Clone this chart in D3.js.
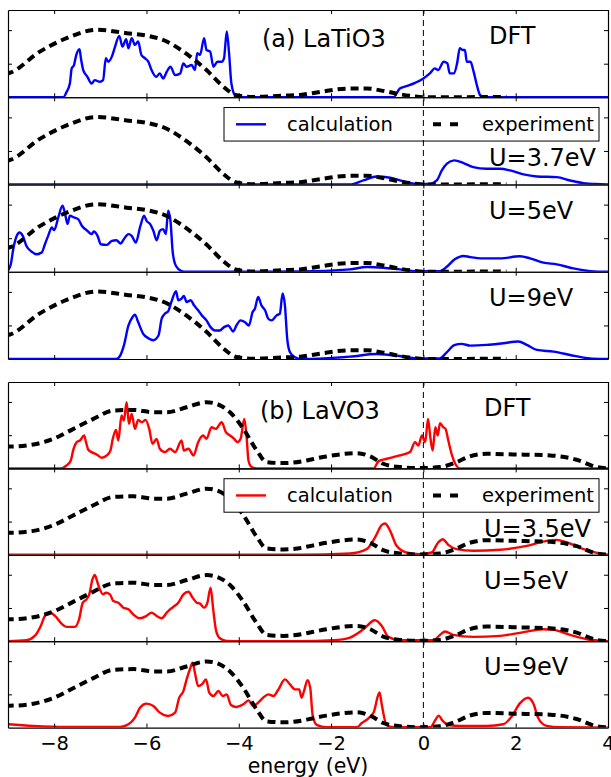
<!DOCTYPE html>
<html>
<head>
<meta charset="utf-8">
<script src="https://cdn.jsdelivr.net/npm/d3@7"></script>
<style>
  html, body { margin: 0; padding: 0; background: #fff; }
  svg { display: block; font-family: "DejaVu Sans", sans-serif; }
</style>
</head>
<body>
<svg id="chart" width="611" height="777"></svg>
<script>
// Energy axis
const energyTicks = [-8, -6, -4, -2, 0, 2, 4];
const energyTickLabels = ["\u22128", "\u22126", "\u22124", "\u22122", "0", "2", "4"];
const dosTicks = [1, 2];

// Photoemission / inverse photoemission spectra (experiment)
const expLaTiO3 = [[-9.05,0.70],[-8.96,0.73],[-8.31,1.36],[-7.73,1.76],[-7.08,2.01],[-6.43,1.91],[-6.0,1.84],[-5.56,1.66],[-5.13,1.29],[-4.70,0.81],[-4.33,0.31],[-4.05,0.06],[-3.68,0.01],[-3.03,0.05],[-2.67,0.07],[-2.24,0.16],[-1.59,0.26],[-1.23,0.26],[-0.87,0.19],[-0.51,0.09],[-0.22,0.03],[0.01,0.0],[1.80,0.01]];
const expLaVO3 = [[-9.05,0.66],[-8.96,0.66],[-8.45,0.72],[-8.02,0.89],[-7.58,1.19],[-7.15,1.49],[-6.72,1.74],[-6.28,1.76],[-5.84,1.69],[-5.56,1.69],[-5.13,1.84],[-4.70,1.99],[-4.48,1.94],[-4.19,1.69],[-3.90,1.19],[-3.61,0.54],[-3.40,0.19],[-3.04,0.16],[-2.60,0.22],[-2.53,0.24],[-2.10,0.36],[-1.44,0.46],[-1.15,0.36],[-0.87,0.14],[-0.51,0.04],[-0.08,0.01],[0.36,0.04],[0.72,0.19],[1.0,0.36],[1.37,0.44],[1.95,0.42],[2.75,0.39],[3.32,0.26],[3.75,0.04],[4.05,0.0]];

// Calculated spectral functions, LaTiO3
const calcLaTiO3DFT = [[-9,0],[-7.80,0],[-7.73,0.16],[-7.66,0.41],[-7.62,0.86],[-7.57,0.96],[-7.53,1.21],[-7.45,1.43],[-7.42,1.16],[-7.37,0.81],[-7.28,0.61],[-7.19,0.41],[-7.12,0.51],[-7.01,0.46],[-6.94,0.51],[-6.88,1.16],[-6.83,1.06],[-6.75,1.21],[-6.68,1.51],[-6.59,1.83],[-6.52,1.51],[-6.44,1.73],[-6.39,1.46],[-6.32,1.76],[-6.25,1.56],[-6.18,1.66],[-6.11,1.26],[-6.03,1.16],[-5.96,1.06],[-5.89,0.81],[-5.79,0.61],[-5.71,0.71],[-5.64,0.56],[-5.56,0.76],[-5.48,0.91],[-5.38,0.66],[-5.27,0.71],[-5.20,1.01],[-5.13,0.91],[-5.02,0.96],[-4.95,0.81],[-4.90,1.31],[-4.84,1.26],[-4.75,1.76],[-4.70,1.41],[-4.62,1.36],[-4.55,0.91],[-4.46,1.06],[-4.37,1.06],[-4.32,1.16],[-4.26,1.96],[-4.21,1.31],[-4.16,0.41],[-4.08,0.06],[-3.97,0],[-0.65,0],[-0.51,0.26],[-0.37,0.33],[-0.18,0.43],[0.0,0.56],[0.14,0.71],[0.25,0.86],[0.32,0.81],[0.44,1.06],[0.52,1.01],[0.57,0.71],[0.66,0.71],[0.73,1.01],[0.79,1.46],[0.85,1.41],[0.90,1.41],[0.94,1.06],[1.02,1.06],[1.08,0.81],[1.15,0.41],[1.23,0.06],[1.33,0],[4,0]];
const calcLaTiO3U37 = [[-9,0],[-1.59,0],[-1.30,0.12],[-1.01,0.24],[-0.72,0.20],[-0.44,0.10],[-0.15,0.02],[0.14,0.02],[0.29,0.12],[0.40,0.42],[0.51,0.62],[0.67,0.72],[0.87,0.64],[1.08,0.52],[1.37,0.47],[1.66,0.47],[1.88,0.42],[2.17,0.30],[2.46,0.24],[2.89,0.22],[3.18,0.12],[3.47,0.04],[3.83,0.01],[4,0]];
const calcLaTiO3U5 = [[-9.0,0.04],[-8.94,0.22],[-8.88,0.72],[-8.81,1.07],[-8.75,1.17],[-8.68,1.07],[-8.60,0.77],[-8.49,0.60],[-8.38,0.52],[-8.27,0.57],[-8.20,0.82],[-8.13,1.07],[-8.05,1.32],[-8.0,1.24],[-7.91,1.62],[-7.82,1.97],[-7.77,1.77],[-7.71,1.42],[-7.66,1.67],[-7.57,1.62],[-7.48,1.57],[-7.40,1.37],[-7.28,1.22],[-7.19,1.12],[-7.14,1.20],[-7.06,1.07],[-6.99,0.82],[-6.86,0.80],[-6.75,0.92],[-6.65,0.94],[-6.56,0.84],[-6.49,0.97],[-6.39,1.12],[-6.32,1.07],[-6.23,0.87],[-6.14,1.32],[-6.05,1.67],[-6.0,1.52],[-5.92,1.42],[-5.85,1.22],[-5.78,0.94],[-5.71,1.22],[-5.64,1.27],[-5.58,1.12],[-5.53,1.82],[-5.48,1.52],[-5.43,0.57],[-5.36,0.17],[-5.24,0.02],[-5.13,0],[-2.67,0.01],[-1.59,0.07],[-1.23,0.14],[-0.87,0.12],[-0.51,0.07],[-0.15,0.02],[0.36,0.02],[0.50,0.14],[0.68,0.37],[0.87,0.47],[1.00,0.44],[1.29,0.40],[1.66,0.40],[2.09,0.46],[2.31,0.40],[2.60,0.27],[2.89,0.22],[3.25,0.10],[3.61,0.02],[3.97,0],[4,0]];
const calcLaTiO3U9 = [[-9,0],[-6.65,0],[-6.57,0.10],[-6.49,0.40],[-6.39,1.00],[-6.30,1.25],[-6.25,1.32],[-6.18,1.10],[-6.07,0.75],[-5.96,0.62],[-5.85,0.56],[-5.74,0.70],[-5.67,1.20],[-5.60,1.35],[-5.53,1.42],[-5.46,1.70],[-5.36,2.02],[-5.31,1.75],[-5.24,1.80],[-5.19,1.88],[-5.13,1.70],[-5.04,1.75],[-4.97,1.60],[-4.88,1.45],[-4.80,1.30],[-4.70,1.15],[-4.61,0.95],[-4.52,0.85],[-4.41,0.85],[-4.32,0.95],[-4.23,1.00],[-4.12,0.82],[-4.05,1.00],[-3.96,1.15],[-3.87,1.10],[-3.78,1.00],[-3.70,1.40],[-3.65,1.50],[-3.58,1.85],[-3.51,1.60],[-3.43,1.45],[-3.36,1.20],[-3.29,1.15],[-3.18,1.30],[-3.11,1.35],[-3.05,1.95],[-3.0,1.60],[-2.95,0.60],[-2.89,0.20],[-2.78,0.05],[-2.64,0],[-1.59,0.07],[-1.01,0.15],[-0.51,0.09],[-0.15,0.02],[0.36,0.02],[0.50,0.19],[0.67,0.41],[0.83,0.45],[1.01,0.40],[1.37,0.42],[1.73,0.47],[2.06,0.52],[2.24,0.42],[2.46,0.27],[2.82,0.22],[3.18,0.12],[3.47,0.04],[3.83,0],[4,0]];

// Calculated spectral functions, LaVO3
const calcLaVO3DFT = [[-9,0],[-7.87,0],[-7.73,0.09],[-7.64,0.24],[-7.58,0.59],[-7.51,0.79],[-7.44,0.84],[-7.35,0.99],[-7.31,0.79],[-7.26,0.56],[-7.19,0.49],[-7.08,0.42],[-6.97,0.32],[-6.86,0.39],[-6.78,0.54],[-6.73,0.89],[-6.66,1.16],[-6.61,0.84],[-6.54,1.59],[-6.49,1.44],[-6.43,1.99],[-6.38,1.34],[-6.32,1.64],[-6.25,1.19],[-6.18,1.46],[-6.10,1.39],[-6.02,1.46],[-5.94,1.19],[-5.87,0.74],[-5.78,0.89],[-5.71,0.59],[-5.60,0.49],[-5.49,0.59],[-5.38,0.49],[-5.24,0.84],[-5.19,0.54],[-5.09,0.59],[-4.98,0.39],[-4.88,0.79],[-4.77,0.99],[-4.70,0.89],[-4.59,1.24],[-4.50,1.19],[-4.37,1.39],[-4.28,1.09],[-4.19,0.99],[-4.10,0.89],[-4.03,0.79],[-3.96,0.89],[-3.88,1.49],[-3.83,0.94],[-3.79,0.24],[-3.72,0.04],[-3.61,0],[-1.08,0],[-0.97,0.22],[-0.79,0.29],[-0.51,0.39],[-0.29,0.49],[-0.18,0.79],[-0.11,0.69],[-0.03,0.99],[0.04,0.79],[0.10,1.49],[0.15,0.94],[0.20,0.54],[0.26,1.24],[0.31,0.99],[0.36,1.36],[0.43,1.24],[0.48,1.19],[0.54,0.84],[0.61,0.44],[0.69,0.14],[0.79,0],[4,0]];
const calcLaVO3U35 = [[-9,0],[-2.67,0],[-1.59,0.04],[-1.23,0.17],[-1.05,0.52],[-0.90,0.90],[-0.83,0.94],[-0.72,0.72],[-0.58,0.27],[-0.37,0.07],[-0.08,0.02],[0.18,0.07],[0.32,0.37],[0.42,0.47],[0.54,0.30],[0.72,0.17],[1.08,0.12],[1.66,0.15],[2.24,0.27],[2.67,0.42],[2.89,0.45],[3.11,0.37],[3.47,0.17],[3.90,0.02],[4,0]];
const calcLaVO3U5 = [[-9.0,0],[-8.60,0.03],[-8.42,0.16],[-8.29,0.46],[-8.20,0.76],[-8.09,0.86],[-7.98,0.76],[-7.84,0.53],[-7.73,0.43],[-7.55,0.43],[-7.46,0.66],[-7.38,1.16],[-7.30,1.26],[-7.24,1.41],[-7.17,1.86],[-7.12,1.99],[-7.07,1.81],[-7.01,1.56],[-6.94,1.41],[-6.88,1.46],[-6.79,1.41],[-6.72,1.21],[-6.61,1.16],[-6.50,1.01],[-6.39,0.96],[-6.29,0.81],[-6.14,0.69],[-6.0,0.76],[-5.89,0.86],[-5.78,0.76],[-5.67,0.69],[-5.56,0.86],[-5.49,0.96],[-5.42,1.03],[-5.31,1.16],[-5.20,1.41],[-5.09,1.49],[-5.0,1.31],[-4.91,1.16],[-4.84,1.13],[-4.75,1.01],[-4.68,1.16],[-4.61,1.61],[-4.55,0.91],[-4.49,0.31],[-4.41,0.09],[-4.26,0.01],[-3.97,0],[-2.67,0],[-1.95,0.03],[-1.59,0.11],[-1.30,0.36],[-1.05,0.63],[-0.90,0.46],[-0.76,0.13],[-0.51,0.03],[0.22,0.03],[0.36,0.19],[0.47,0.29],[0.65,0.19],[1.08,0.13],[1.66,0.16],[2.24,0.29],[2.60,0.36],[2.82,0.34],[3.18,0.19],[3.54,0.06],[3.90,0.01],[4,0]];
const calcLaVO3U9 = [[-9.0,0.10],[-8.45,0.05],[-7.73,0.02],[-6.57,0.02],[-6.39,0.10],[-6.25,0.30],[-6.14,0.60],[-6.0,0.72],[-5.85,0.65],[-5.71,0.45],[-5.53,0.35],[-5.38,0.45],[-5.29,0.90],[-5.20,1.10],[-5.13,1.45],[-5.06,1.75],[-5.0,1.95],[-4.95,1.65],[-4.88,1.25],[-4.80,1.30],[-4.71,1.45],[-4.64,1.05],[-4.55,0.95],[-4.44,1.10],[-4.35,0.95],[-4.26,1.00],[-4.17,0.68],[-4.05,0.62],[-3.90,0.70],[-3.79,0.82],[-3.69,0.65],[-3.58,0.75],[-3.47,0.90],[-3.36,1.00],[-3.25,0.95],[-3.14,1.15],[-3.0,1.45],[-2.89,1.30],[-2.78,1.15],[-2.69,1.15],[-2.64,0.90],[-2.59,1.08],[-2.51,1.43],[-2.45,1.18],[-2.40,0.38],[-2.31,0.08],[-2.10,0.01],[-1.44,0.01],[-1.34,0.13],[-1.19,0.28],[-1.07,0.48],[-0.99,0.93],[-0.95,1.06],[-0.90,0.68],[-0.80,0.08],[-0.65,0.01],[0.15,0.01],[0.26,0.23],[0.33,0.36],[0.42,0.20],[0.54,0.08],[0.80,0.05],[1.37,0.05],[1.73,0.10],[1.91,0.33],[2.09,0.73],[2.27,0.90],[2.38,0.73],[2.49,0.28],[2.67,0.05],[2.96,0.01],[3.90,0],[4,0]];

// Panel captions
const captionsLaTiO3 = ["DFT", "U=3.7eV", "U=5eV", "U=9eV"];
const captionsLaVO3 = ["DFT", "U=3.5eV", "U=5eV", "U=9eV"];
const legendLabels = ["calculation", "experiment"];

const svg = d3.select("#chart");
const x = d3.scaleLinear().domain([-9, 4]).range([8, 608]);

const groups = [
  { title: "(a) LaTiO3", top: 10, height: 87.25, color: "#0000ff",
    exp: expLaTiO3, calc: [calcLaTiO3DFT, calcLaTiO3U37, calcLaTiO3U5, calcLaTiO3U9],
    captions: captionsLaTiO3, capX: 489, titleX: 262 },
  { title: "(b) LaVO3", top: 382, height: 86.4, color: "#ff0000",
    exp: expLaVO3, calc: [calcLaVO3DFT, calcLaVO3U35, calcLaVO3U5, calcLaVO3U9],
    captions: captionsLaVO3, capX: 484, titleX: 260 }
];

const line = d3.line().x(d => x(d[0])).curve(d3.curveMonotoneX);
const defs = svg.append("defs");

groups.forEach((g, gi) => {
  const G = svg.append("g");
  g.calc.forEach((calc, pi) => {
    const top = g.top + pi * g.height;
    const bottom = top + g.height;
    const y = d3.scaleLinear().domain([0, 2.6]).range([bottom, top]);
    const clipId = `clip-${gi}-${pi}`;
    defs.append("clipPath").attr("id", clipId)
      .append("rect").attr("x", x.range()[0]).attr("y", top)
      .attr("width", x.range()[1] - x.range()[0]).attr("height", g.height);

    const P = G.append("g");
    const plot = P.append("g").attr("clip-path", `url(#${clipId})`);
    line.y(d => y(d[1]));
    plot.append("path").datum(calc).attr("d", line)
      .attr("fill", "none").attr("stroke", g.color).attr("stroke-width", 2.4)
      .attr("stroke-linejoin", "round");
    plot.append("path").datum(g.exp).attr("d", line)
      .attr("fill", "none").attr("stroke", "#000").attr("stroke-width", 4)
      .attr("stroke-dasharray", "8,5");

    // inward ticks on all four sides
    const axB = d3.axisBottom(x).tickValues(energyTicks).tickSize(-4).tickSizeOuter(0).tickFormat("");
    const axT = d3.axisTop(x).tickValues(energyTicks).tickSize(-4).tickSizeOuter(0).tickFormat("");
    const axL = d3.axisLeft(y).tickValues(dosTicks).tickSize(-4).tickSizeOuter(0).tickFormat("");
    const axR = d3.axisRight(y).tickValues(dosTicks).tickSize(-4).tickSizeOuter(0).tickFormat("");
    [[axB, `translate(0,${bottom})`], [axT, `translate(0,${top})`],
     [axL, `translate(${x.range()[0]},0)`], [axR, `translate(${x.range()[1]},0)`]]
      .forEach(([ax, tr]) => {
        const a = P.append("g").attr("transform", tr).call(ax);
        a.selectAll("path.domain").attr("stroke", "#000").attr("stroke-width", 1.2);
        a.selectAll(".tick line").attr("stroke", "#000").attr("stroke-width", 1);
      });

    // caption
    const capY = (pi === 1) ? top + 68.5 : top + 34;
    P.append("text").attr("x", g.capX).attr("y", capY)
      .attr("font-size", 24).attr("fill", "#000").text(g.captions[pi]);

    // legend in second panel
    if (pi === 1) {
      const lx = 224, ly = top + 10.3, lw = 375, lh = 33.5;
      const L = P.append("g");
      L.append("rect").attr("x", lx).attr("y", ly).attr("width", lw).attr("height", lh)
        .attr("fill", "#fff").attr("stroke", "#000").attr("stroke-width", 1);
      const cy = ly + lh / 2;
      L.append("line").attr("x1", lx + 12).attr("x2", lx + 42).attr("y1", cy).attr("y2", cy)
        .attr("stroke", g.color).attr("stroke-width", 2.4);
      L.append("text").attr("x", lx + 63).attr("y", cy + 7).attr("font-size", 19.5).text(legendLabels[0]);
      L.append("line").attr("x1", lx + 209).attr("x2", lx + 234).attr("y1", cy).attr("y2", cy)
        .attr("stroke", "#000").attr("stroke-width", 4).attr("stroke-dasharray", "8,9");
      L.append("text").attr("x", lx + 258).attr("y", cy + 7).attr("font-size", 19.5).text(legendLabels[1]);
    }

    // energy labels on the bottom-most panel
    if (gi === 1 && pi === 3) {
      const axLab = d3.axisBottom(x).tickValues(energyTicks).tickSize(0).tickPadding(9)
        .tickFormat((d, i) => energyTickLabels[i]);
      const a = G.append("g").attr("transform", `translate(0,${bottom})`).call(axLab);
      a.select("path.domain").remove();
      a.selectAll("text").attr("font-size", 19.5).attr("font-family", "DejaVu Sans").attr("fill", "#000");
      G.append("text").attr("x", (x.range()[0] + x.range()[1]) / 2).attr("y", bottom + 45)
        .attr("text-anchor", "middle").attr("font-size", 20.5).text("energy (eV)");
    }
  });

  // Fermi level marker across the group
  G.append("line").attr("x1", x(0)).attr("x2", x(0))
    .attr("y1", g.top).attr("y2", g.top + 4 * g.height)
    .attr("stroke", "#000").attr("stroke-width", 1).attr("stroke-dasharray", "6,4");

  // group title
  G.append("text").attr("x", g.titleX).attr("y", g.top + 37)
    .attr("font-size", 24).text(g.title);
});
</script>
</body>
</html>
